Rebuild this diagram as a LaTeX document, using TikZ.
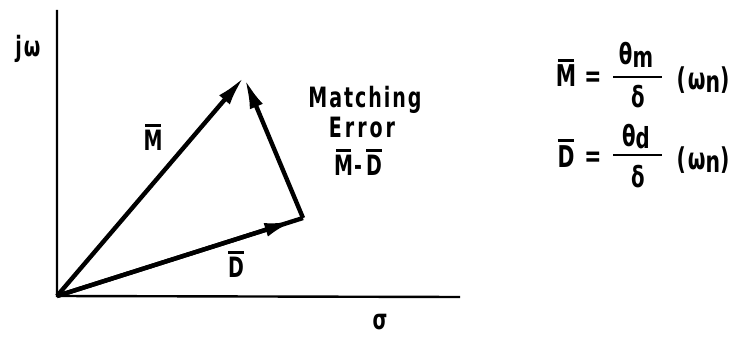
\documentclass[tikz,border=0pt]{standalone}
\usepackage{fontspec}
\setmainfont{DejaVu Sans Bold}[FakeStretch=0.68, LetterSpace=7]
\usetikzlibrary{arrows.meta}
\newcommand\obar[1]{\leavevmode\vbox{\offinterlineskip\halign{\hfil##\hfil\cr\rule{0.55em}{3pt}\cr\noalign{\kern3pt}\hbox{#1}\cr}}}
\tikzset{
  lbl/.style={inner sep=0pt, anchor=base, font=\fontsize{28}{32}\selectfont},
  eq/.style={inner sep=0pt, anchor=base, font=\fontsize{30}{34}\selectfont},
  sub/.style={inner sep=0pt, anchor=base, font=\fontsize{29}{33}\selectfont},
  axis/.style={line width=2.4pt},
  vec/.style={line width=4.4pt, -{Latex[length=30pt,width=14pt]}},
  plain/.style={line width=4.4pt},
  fbar/.style={line width=2.8pt}
}
\begin{document}
\begin{tikzpicture}[x=1pt,y=-1pt]
\useasboundingbox (0,0) rectangle (734,337);
% axes
\coordinate (O) at (57,296);
\coordinate (ytop) at (57,10);
\coordinate (xend) at (460,297);
\draw[axis] (ytop) -- (O) -- (xend);
\node[lbl] (jw) at (28,57) {jω};
\node[lbl] (sigma) at (380,329) {σ};
% vectors
\coordinate (Mt) at (244,77);
\coordinate (Dt) at (303,218);
\draw[vec] (O) -- (Mt);
\draw[plain] (O) -- (Dt);
\draw[vec, shorten >=9pt] (O) -- (Dt);
\draw[vec, shorten >=2pt] (Dt) -- (Mt);
\node[lbl] (Mlab) at (153,150) {\obar{M}};
\node[lbl] (Dlab) at (236,277) {\obar{D}};
% matching error
\node[lbl] (match) at (365,107) {Matching};
\node[lbl] (err) at (362,137) {E\kern3pt r\kern3pt r\kern3pt o\kern3pt r};
\node[lbl] (md) at (358,175) {\obar{M}\kern1pt-\kern4pt\obar{D}};
% equations
\node[eq] (M2) at (566,87) {\obar{M}};
\node[eq] (eq1) at (593,86) {=};
\node[sub] (num1) at (636,65) {θ\raisebox{-2pt}{m}};
\draw[fbar] (613,77) -- (662,77);
\node[sub] (den1) at (638,107) {δ};
\node[eq] (w1) at (703,89) {(ω\raisebox{-3pt}{n})};
\node[eq] (D2) at (566,167) {\obar{D}};
\node[eq] (eq2) at (593,166) {=};
\node[sub] (num2) at (636,146) {θ\raisebox{-2pt}{d}};
\draw[fbar] (613,155) -- (662,155);
\node[sub] (den2) at (638,187) {δ};
\node[eq] (w2) at (703,169) {(ω\raisebox{-3pt}{n})};
\end{tikzpicture}
\end{document}
